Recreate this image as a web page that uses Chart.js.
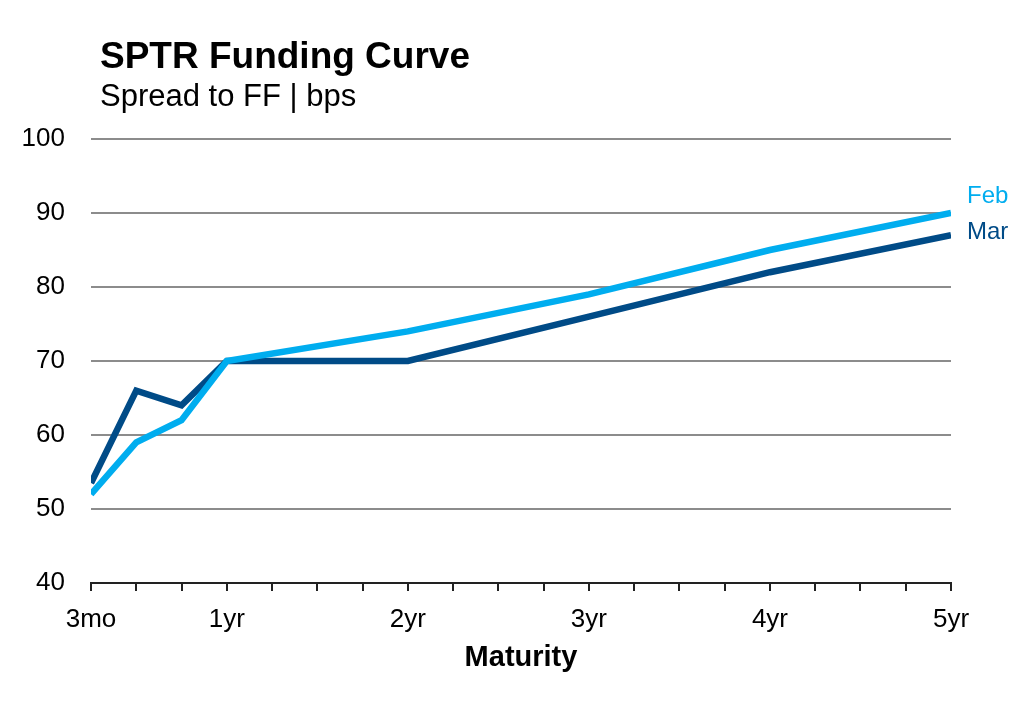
<!DOCTYPE html>
<html>
<head>
<meta charset="utf-8">
<script src="https://cdn.jsdelivr.net/npm/chart.js"></script>
<style>
  html, body { margin: 0; padding: 0; background: #fff; }
  #wrap { width: 1024px; height: 715px; position: relative; }
</style>
</head>
<body>
<div id="wrap"><canvas id="myChart" width="1024" height="715"></canvas></div>
<script>
// tenor in years
const tenors = [0.25, 0.5, 0.75, 1, 2, 3, 4, 5];
const febValues = [52, 59, 62, 70, 74, 79, 85, 90];
const marValues = [53.5, 66, 64, 70, 70, 76, 82, 87];
const tickValues = [0.25, 1, 2, 3, 4, 5];
const tickLabels = ['3mo', '1yr', '2yr', '3yr', '4yr', '5yr'];

const FEB = '#00adef';
const MAR = '#004b87';
const FONT = 'Liberation Sans, Arial, sans-serif';

// title, subtitle and end-of-line series names
const textPlugin = {
    id: 'textPlugin',
    afterDraw(chart) {
        const ctx = chart.ctx;
        ctx.save();
        ctx.fillStyle = '#000';
        ctx.textAlign = 'left';
        ctx.textBaseline = 'alphabetic';
        ctx.font = 'bold 37px ' + FONT;
        ctx.fillText('SPTR Funding Curve', 100, 68);
        ctx.font = '31px ' + FONT;
        ctx.fillText('Spread to FF | bps', 100, 106);

        const offsets = [-17, -3];
        chart.data.datasets.forEach((ds, i) => {
            const meta = chart.getDatasetMeta(i);
            const last = meta.data[meta.data.length - 1];
            ctx.font = '24px ' + FONT;
            ctx.fillStyle = ds.borderColor;
            ctx.textBaseline = 'middle';
            ctx.fillText(ds.label, last.x + 16, last.y + offsets[i]);
        });
        ctx.restore();
    }
};

const toPts = (vals) => tenors.map((t, i) => ({ x: t, y: vals[i] }));

new Chart(document.getElementById('myChart'), {
    type: 'line',
    data: {
        datasets: [
            { label: 'Feb', data: toPts(febValues), borderColor: FEB, borderWidth: 6.5, pointRadius: 0, tension: 0 },
            { label: 'Mar', data: toPts(marValues), borderColor: MAR, borderWidth: 6.5, pointRadius: 0, tension: 0 }
        ]
    },
    options: {
        responsive: false,
        animation: false,
        devicePixelRatio: 1,
        layout: { padding: { top: 139, right: 73, bottom: 35, left: 0 } },
        plugins: {
            legend: { display: false },
            tooltip: { enabled: false }
        },
        scales: {
            x: {
                type: 'linear',
                min: 0.25,
                max: 5,
                afterFit: (s) => { s.height = 97; },
                afterBuildTicks: (s) => {
                    const t = [];
                    for (let v = 0.25; v <= 5.0001; v += 0.25) t.push({ value: v });
                    s.ticks = t;
                },
                ticks: {
                    autoSkip: false,
                    maxRotation: 0,
                    padding: 13,
                    color: '#000',
                    font: { family: FONT, size: 26 },
                    callback: (v) => {
                        const i = tickValues.findIndex(tv => Math.abs(tv - v) < 1e-6);
                        return i >= 0 ? tickLabels[i] : '';
                    }
                },
                grid: { drawOnChartArea: false, drawTicks: true, tickLength: 8, color: '#222', lineWidth: 2 },
                border: { display: true, color: '#222', width: 2 },
                title: {
                    display: true,
                    text: 'Maturity',
                    color: '#000',
                    font: { family: FONT, size: 29, weight: 'bold' },
                    padding: { top: 0, bottom: 5 }
                }
            },
            y: {
                min: 40,
                max: 100,
                afterFit: (s) => { s.width = 91; },
                ticks: {
                    stepSize: 10,
                    padding: 26,
                    color: '#000',
                    font: { family: FONT, size: 26 }
                },
                grid: { color: '#8c8c8c', lineWidth: 2, drawTicks: false },
                border: { display: false }
            }
        }
    },
    plugins: [textPlugin]
});
</script>
</body>
</html>
